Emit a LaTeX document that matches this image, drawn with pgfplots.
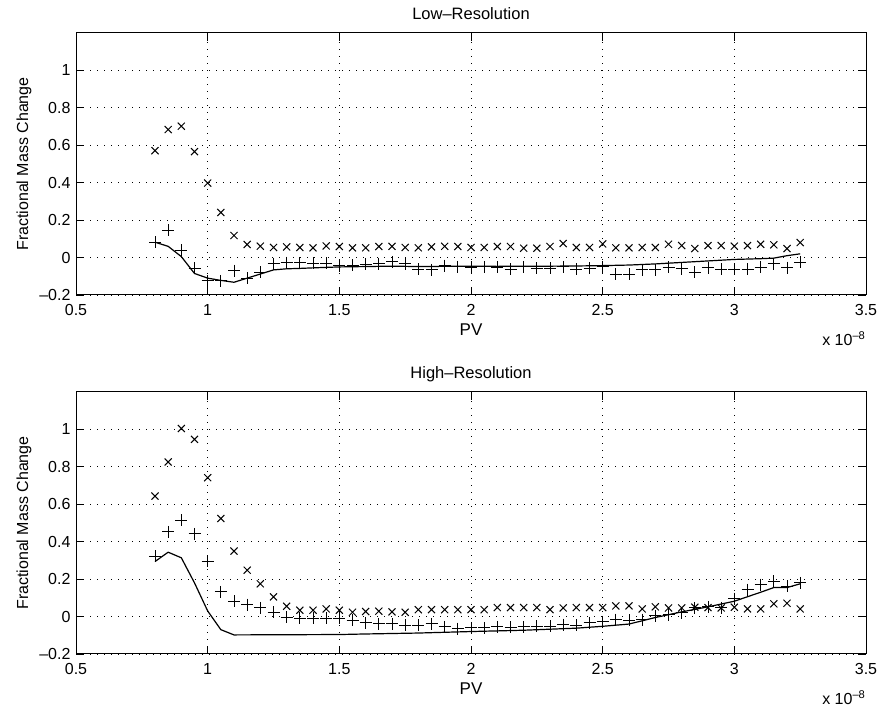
\documentclass[border=0pt]{standalone}
\usepackage{pgfplots}
\pgfplotsset{compat=1.18}
\usepackage{fontspec}
\setmainfont{Liberation Sans}

\pgfplotsset{
  matlab/.style={
    scale only axis, width=790pt, height=262pt,
    xmin=0.5, xmax=3.5, ymin=-0.2, ymax=1.2,
    xtick={0.5,1,1.5,2,2.5,3,3.5},
    xticklabels={0.5,1,1.5,2,2.5,3,3.5},
    ytick={-0.2,0,0.2,0.4,0.6,0.8,1},
    yticklabels={\textendash0.2,0,0.2,0.4,0.6,0.8,1},
    tick align=inside, major tick length=8pt,
    tick style={black, line width=0.8pt},
    axis line style={black, line width=1pt},
    grid=major,
    major grid style={black, line width=0.8pt, dash pattern=on 1pt off 6pt},
    ticklabel style={font=\fontsize{16}{19}\selectfont},
    xticklabel style={anchor=base, yshift=-21pt},
    yticklabel style={anchor=east, xshift=-2pt},
    title style={at={(0.5,1)}, anchor=base, yshift=7pt, font=\fontsize{16.5}{19}\selectfont},
    every axis x label/.style={at={(rel axis cs:0.5,0)}, anchor=base, yshift=-41pt, font=\fontsize{17}{20}\selectfont},
    every axis y label/.style={at={(rel axis cs:-0.0658,0.5)}, anchor=center, rotate=90, font=\fontsize{16}{19}\selectfont},
    xlabel={PV}, ylabel={Fractional Mass Change},
    clip=false,
  },
  xser/.style={only marks, mark=x, mark size=5pt, black, mark options={line width=1pt}},
  pser/.style={only marks, mark=+, mark size=6pt, black, mark options={line width=1pt}},
  lser/.style={black, line width=1.2pt, no marks},
}

\pgfplotstableread{
x y
0.80 0.571
0.85 0.684
0.90 0.702
0.95 0.566
1.00 0.398
1.05 0.241
1.10 0.118
1.15 0.070
1.20 0.061
1.25 0.054
1.30 0.057
1.35 0.054
1.40 0.052
1.45 0.062
1.50 0.059
1.55 0.052
1.60 0.052
1.65 0.059
1.70 0.060
1.75 0.054
1.80 0.052
1.85 0.057
1.90 0.060
1.95 0.059
2.00 0.054
2.05 0.054
2.10 0.059
2.15 0.059
2.20 0.050
2.25 0.050
2.30 0.059
2.35 0.075
2.40 0.054
2.45 0.054
2.50 0.073
2.55 0.052
2.60 0.052
2.65 0.054
2.70 0.054
2.75 0.071
2.80 0.064
2.85 0.048
2.90 0.064
2.95 0.064
3.00 0.061
3.05 0.064
3.10 0.071
3.15 0.068
3.20 0.048
3.25 0.080
}\lowx

\pgfplotstableread{
x y
0.80 0.082
0.85 0.145
0.90 0.038
0.95 -0.057
1.00 -0.125
1.05 -0.125
1.10 -0.070
1.15 -0.110
1.20 -0.079
1.25 -0.032
1.30 -0.027
1.35 -0.029
1.40 -0.030
1.45 -0.030
1.50 -0.045
1.55 -0.040
1.60 -0.036
1.65 -0.032
1.70 -0.023
1.75 -0.034
1.80 -0.062
1.85 -0.066
1.90 -0.043
1.95 -0.050
2.00 -0.052
2.05 -0.050
2.10 -0.052
2.15 -0.062
2.20 -0.050
2.25 -0.057
2.30 -0.057
2.35 -0.050
2.40 -0.062
2.45 -0.057
2.50 -0.048
2.55 -0.088
2.60 -0.088
2.65 -0.066
2.70 -0.064
2.75 -0.052
2.80 -0.059
2.85 -0.079
2.90 -0.054
2.95 -0.062
3.00 -0.062
3.05 -0.062
3.10 -0.052
3.15 -0.034
3.20 -0.054
3.25 -0.025
}\lowp

\pgfplotstableread{
x y
0.80 0.082
0.85 0.060
0.90 0.005
0.95 -0.085
1.00 -0.110
1.05 -0.122
1.10 -0.132
1.15 -0.110
1.20 -0.088
1.25 -0.066
1.30 -0.060
1.35 -0.058
1.40 -0.055
1.50 -0.050
1.60 -0.048
1.70 -0.046
1.80 -0.048
1.90 -0.047
2.00 -0.046
2.10 -0.047
2.20 -0.046
2.30 -0.046
2.40 -0.045
2.50 -0.043
2.60 -0.040
2.70 -0.034
2.80 -0.026
2.90 -0.018
3.00 -0.010
3.10 -0.006
3.15 -0.003
3.20 0.010
3.25 0.020
}\lowl

\pgfplotstableread{
x y
0.80 0.644
0.85 0.826
0.90 1.005
0.95 0.947
1.00 0.742
1.05 0.524
1.10 0.350
1.15 0.248
1.20 0.175
1.25 0.105
1.30 0.055
1.35 0.034
1.40 0.034
1.45 0.041
1.50 0.034
1.55 0.023
1.60 0.027
1.65 0.029
1.70 0.025
1.75 0.023
1.80 0.037
1.85 0.037
1.90 0.037
1.95 0.037
2.00 0.037
2.05 0.037
2.10 0.048
2.15 0.048
2.20 0.048
2.25 0.048
2.30 0.037
2.35 0.046
2.40 0.048
2.45 0.048
2.50 0.048
2.55 0.057
2.60 0.057
2.65 0.041
2.70 0.052
2.75 0.046
2.80 0.046
2.85 0.050
2.90 0.048
2.95 0.046
3.00 0.050
3.05 0.041
3.10 0.041
3.15 0.068
3.20 0.071
3.25 0.041
}\highx

\pgfplotstableread{
x y
0.80 0.323
0.85 0.453
0.90 0.514
0.95 0.442
1.00 0.296
1.05 0.132
1.10 0.082
1.15 0.064
1.20 0.046
1.25 0.023
1.30 -0.004
1.35 -0.009
1.40 -0.009
1.45 -0.009
1.50 -0.009
1.55 -0.021
1.60 -0.034
1.65 -0.039
1.70 -0.039
1.75 -0.046
1.80 -0.046
1.85 -0.039
1.90 -0.055
1.95 -0.064
2.00 -0.060
2.05 -0.060
2.10 -0.055
2.15 -0.057
2.20 -0.055
2.25 -0.052
2.30 -0.052
2.35 -0.043
2.40 -0.046
2.45 -0.034
2.50 -0.027
2.55 -0.016
2.60 -0.020
2.65 -0.016
2.70 0.005
2.75 0.009
2.80 0.020
2.85 0.046
2.90 0.052
2.95 0.046
3.00 0.096
3.05 0.144
3.10 0.171
3.15 0.189
3.20 0.162
3.25 0.180
}\highp

\pgfplotstableread{
x y
0.80 0.294
0.85 0.344
0.90 0.314
0.95 0.180
1.00 0.030
1.05 -0.070
1.10 -0.098
1.50 -0.096
1.60 -0.093
1.80 -0.088
2.00 -0.080
2.20 -0.073
2.40 -0.062
2.50 -0.052
2.60 -0.040
2.70 -0.005
2.80 0.025
2.90 0.052
3.00 0.082
3.10 0.130
3.15 0.155
3.20 0.155
3.25 0.175
}\highl

\begin{document}
\begin{tikzpicture}
\useasboundingbox (0pt,0pt) rectangle (880pt,711pt);
\begin{axis}[matlab, at={(76pt,416pt)}, anchor=south west, title={Low\textendash Resolution}]
  \addplot[lser] table[x=x,y=y] {\lowl};
  \addplot[xser] table[x=x,y=y] {\lowx};
  \addplot[pser] table[x=x,y=y] {\lowp};
  \node[anchor=base east, font=\fontsize{16}{19}\selectfont, xshift=3pt, yshift=-51pt] at (rel axis cs:1,0) {x 10\textsuperscript{\textendash8}};
\end{axis}
\begin{axis}[matlab, at={(76pt,57pt)}, anchor=south west, title={High\textendash Resolution}]
  \addplot[lser] table[x=x,y=y] {\highl};
  \addplot[xser] table[x=x,y=y] {\highx};
  \addplot[pser] table[x=x,y=y] {\highp};
  \node[anchor=base east, font=\fontsize{16}{19}\selectfont, xshift=3pt, yshift=-51pt] at (rel axis cs:1,0) {x 10\textsuperscript{\textendash8}};
\end{axis}
\end{tikzpicture}
\end{document}
